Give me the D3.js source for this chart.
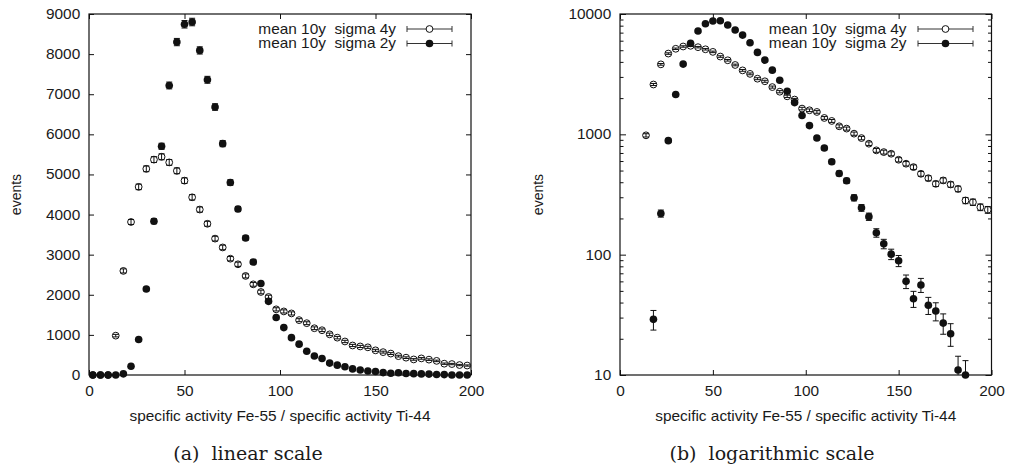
<!DOCTYPE html>
<html>
<head>
<meta charset="utf-8">
<script src="https://cdn.jsdelivr.net/npm/d3@7"></script>
<style>
  body { margin: 0; background: #fff; }
  text { font-family: "Liberation Sans", Arial, sans-serif; fill: #1a1a1a; }
  .caption { font-family: "DejaVu Serif", "Liberation Serif", serif; }
</style>
</head>
<body>
<svg id="chart" width="1010" height="470"></svg>
<script>
// bin centres of the histogram (specific activity ratio)
var binCenters = [2, 6, 10, 14, 18, 22, 26, 30, 34, 38, 42, 46, 50, 54, 58, 62, 66, 70, 74, 78,
  82, 86, 90, 94, 98, 102, 106, 110, 114, 118, 122, 126, 130, 134, 138, 142, 146, 150, 154, 158,
  162, 166, 170, 174, 178, 182, 186, 190, 194, 198];

// events per bin
var sigma4y = [0, 0, 0, 981, 2595, 3815, 4690, 5140, 5370, 5440, 5300, 5090, 4845, 4430, 4125,
  3770, 3400, 3180, 2900, 2760, 2470, 2260, 2070, 1945, 1637, 1585, 1535, 1368, 1292, 1166, 1116,
  1013, 931, 836, 736, 712, 690, 615, 570, 534, 470, 432, 388, 414, 383, 352, 282, 273, 248, 236];

var sigma2y = [0, 0, 0, 0, 29, 220, 886, 2143, 3833, 5702, 7218, 8300, 8744, 8800, 8092, 7360,
  6681, 5768, 4798, 4138, 3415, 2818, 2282, 1836, 1432, 1182, 931, 769, 592, 473, 411, 297, 245,
  207, 152, 123, 101, 89, 60, 43, 56, 38, 34, 27, 22, 11, 10, 0, 0, 0];

var seriesNames = ["mean 10y  sigma 4y", "mean 10y  sigma 2y"];

var xTicks = [0, 50, 100, 150, 200];
var linearTicks = [0, 1000, 2000, 3000, 4000, 5000, 6000, 7000, 8000, 9000];
var logTicks = [10, 100, 1000, 10000];
var logMinorTicks = [20, 30, 40, 50, 60, 70, 80, 90, 200, 300, 400, 500, 600, 700, 800, 900,
  2000, 3000, 4000, 5000, 6000, 7000, 8000, 9000];

var xTitle = "specific activity Fe-55 / specific activity Ti-44";
var yTitle = "events";
var captions = ["(a)  linear scale", "(b)  logarithmic scale"];

var svg = d3.select("#chart");
var ink = "#111";
var stretch = "scale(1.1,1)";
var rFilled = 3.8, rOpen = 3.4;

function drawPanel(cfg) {
  var g = svg.append("g");
  var x = d3.scaleLinear().domain([0, 200]).range([cfg.left, cfg.right]);
  var y = cfg.log
    ? d3.scaleLog().domain([10, 10000]).range([cfg.bottom, cfg.top])
    : d3.scaleLinear().domain([0, 9000]).range([cfg.bottom, cfg.top]);
  var yMin = y.domain()[0], yMax = y.domain()[1];

  // ticks point inwards on all four sides, gnuplot style
  g.append("g")
    .attr("transform", "translate(0," + cfg.bottom + ")")
    .call(d3.axisBottom(x).tickValues(xTicks).tickSizeInner(-5).tickSizeOuter(0).tickPadding(11));
  g.append("g")
    .attr("transform", "translate(0," + cfg.top + ")")
    .call(d3.axisTop(x).tickValues(xTicks).tickSizeInner(-5).tickSizeOuter(0).tickFormat(""));

  var majors = cfg.log ? logTicks : linearTicks;
  var majorLen = cfg.log ? 6 : 5;
  g.append("g")
    .attr("transform", "translate(" + cfg.left + ",0)")
    .call(d3.axisLeft(y).tickValues(majors).tickFormat(d3.format("d"))
      .tickSizeInner(-majorLen).tickSizeOuter(0).tickPadding(8));
  g.append("g")
    .attr("transform", "translate(" + cfg.right + ",0)")
    .call(d3.axisRight(y).tickValues(majors).tickFormat("").tickSizeInner(-majorLen).tickSizeOuter(0));

  if (cfg.log) {
    g.append("g")
      .attr("transform", "translate(" + cfg.left + ",0)")
      .call(d3.axisLeft(y).tickValues(logMinorTicks).tickFormat("").tickSizeInner(-3.5).tickSizeOuter(0));
    g.append("g")
      .attr("transform", "translate(" + cfg.right + ",0)")
      .call(d3.axisRight(y).tickValues(logMinorTicks).tickFormat("").tickSizeInner(-3.5).tickSizeOuter(0));
  }

  g.selectAll(".domain").remove();
  g.selectAll(".tick line").attr("stroke", ink).attr("stroke-width", 1);
  g.selectAll(".tick text")
    .attr("fill", "#1a1a1a")
    .style("font-size", "14px")
    .style("font-family", "'Liberation Sans', Arial, sans-serif")
    .attr("transform", stretch);

  // frame
  g.append("rect")
    .attr("x", cfg.left).attr("y", cfg.top)
    .attr("width", cfg.right - cfg.left).attr("height", cfg.bottom - cfg.top)
    .attr("fill", "none").attr("stroke", ink).attr("stroke-width", 1.2);

  // one series: error bars (poisson, sqrt of counts) then markers
  function drawSeries(values, filled) {
    var pts = binCenters.map(function(c, i) { return {c: c, v: values[i]}; })
      .filter(function(d) { return cfg.log ? d.v >= yMin : true; });

    var s = g.append("g");
    s.selectAll("path.err")
      .data(pts)
      .enter().append("path")
      .attr("class", "err")
      .attr("fill", "none")
      .attr("stroke", ink)
      .attr("stroke-width", 1)
      .attr("d", function(d) {
        var e = Math.sqrt(d.v);
        var lo = Math.max(d.v - e, yMin), hi = Math.min(d.v + e, yMax);
        var px = x(d.c), y0 = y(lo), y1 = y(hi);
        var p = "M" + px + "," + y0 + "V" + y1 + "M" + (px - 3) + "," + y1 + "H" + (px + 3);
        if (d.v - e > yMin) p += "M" + (px - 3) + "," + y0 + "H" + (px + 3);
        return p;
      });

    s.selectAll("circle")
      .data(pts)
      .enter().append("circle")
      .attr("cx", function(d) { return x(d.c); })
      .attr("cy", function(d) { return y(d.v); })
      .attr("r", filled ? rFilled : rOpen)
      .attr("fill", filled ? ink : "none")
      .attr("stroke", ink)
      .attr("stroke-width", filled ? 0 : 1);
  }

  drawSeries(sigma4y, false);
  drawSeries(sigma2y, true);

  // legend
  var legendY = [29, 43.5];
  seriesNames.forEach(function(name, i) {
    var ly = legendY[i];
    g.append("g")
      .attr("transform", "translate(" + cfg.legendTextX + "," + ly + ")")
      .append("text")
      .attr("transform", stretch)
      .attr("text-anchor", "end")
      .attr("dy", "0.35em")
      .style("font-size", "14px")
      .style("white-space", "pre")
      .text(name);
    var s0 = cfg.sample[0], s1 = cfg.sample[1];
    g.append("path")
      .attr("fill", "none").attr("stroke", "#333").attr("stroke-width", 1)
      .attr("d", "M" + s0 + "," + ly + "H" + s1 +
        "M" + s0 + "," + (ly - 3) + "V" + (ly + 3) +
        "M" + s1 + "," + (ly - 3) + "V" + (ly + 3));
    g.append("circle")
      .attr("cx", (s0 + s1) / 2).attr("cy", ly)
      .attr("r", i === 1 ? rFilled : rOpen)
      .attr("fill", i === 1 ? ink : "#fff")
      .attr("stroke", ink)
      .attr("stroke-width", i === 1 ? 0 : 1);
  });

  // axis titles
  g.append("g")
    .attr("transform", "translate(" + (cfg.left + cfg.right) / 2 + ",416)")
    .append("text")
    .attr("transform", stretch)
    .attr("text-anchor", "middle")
    .attr("dy", "0.35em")
    .style("font-size", "14px")
    .text(xTitle);

  g.append("text")
    .attr("transform", "translate(" + cfg.yLabelX + "," + (cfg.top + cfg.bottom) / 2 + ") rotate(-90)")
    .attr("text-anchor", "middle")
    .attr("dy", "0.35em")
    .style("font-size", "14px")
    .text(yTitle);

  // subfigure caption
  g.append("text")
    .attr("class", "caption")
    .attr("x", cfg.captionX)
    .attr("y", 460)
    .attr("text-anchor", "middle")
    .style("font-size", "19px")
    .style("white-space", "pre")
    .text(cfg.caption);
}

drawPanel({
  left: 89, right: 471, top: 14, bottom: 375, log: false,
  yLabelX: 16, legendTextX: 396, sample: [407, 452],
  captionX: 248, caption: captions[0]
});

drawPanel({
  left: 620, right: 991.5, top: 14, bottom: 375, log: true,
  yLabelX: 538, legendTextX: 906.5, sample: [918, 973],
  captionX: 772, caption: captions[1]
});
</script>
</body>
</html>
